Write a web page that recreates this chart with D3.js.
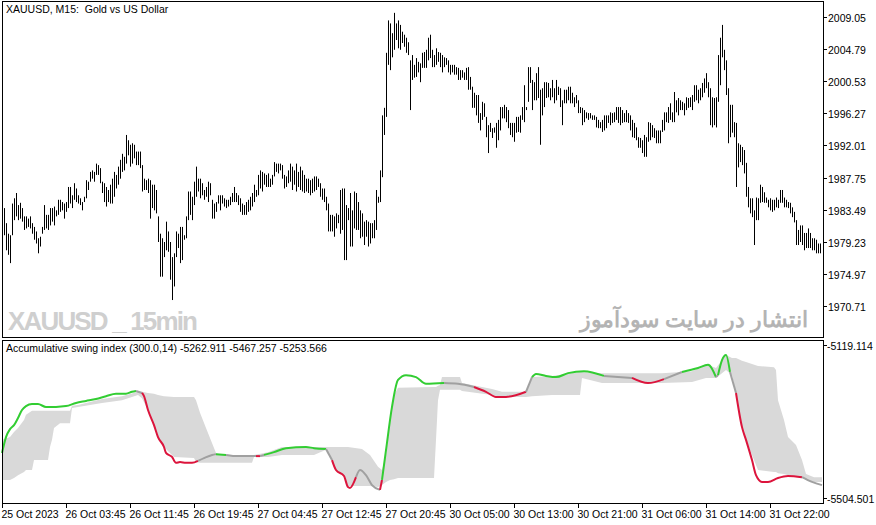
<!DOCTYPE html>
<html><head><meta charset="utf-8">
<script src="https://cdn.jsdelivr.net/npm/d3@7"></script>
<style>body{margin:0;background:#fff}svg{display:block}text{font-family:"Liberation Sans",Arial,sans-serif;white-space:pre}</style>
</head><body><svg id="c" width="876" height="525"></svg>
<script>
// ---- data ----
const barHigh=[1983.7,1981.7,1980.3,1980.1,1984.3,1985.0,1985.7,1984.1,1984.4,1983.7,1982.6,1982.6,1982.3,1982.6,1981.7,1981.2,1980.6,1979.7,1979.9,1981.2,1984.1,1982.8,1982.8,1983.7,1983.7,1983.9,1983.4,1984.8,1984.8,1984.5,1984.3,1984.5,1986.5,1986.5,1985.4,1987.0,1986.3,1985.4,1985.0,1984.5,1985.2,1987.4,1987.2,1988.5,1988.7,1988.5,1989.6,1989.4,1989.0,1987.2,1987.0,1986.5,1986.1,1986.8,1987.6,1988.5,1988.1,1989.2,1990.1,1990.9,1990.5,1993.4,1992.7,1992.1,1992.3,1992.1,1991.2,1991.2,1991.2,1989.4,1987.6,1987.4,1987.6,1987.4,1986.8,1986.8,1986.1,1982.6,1980.3,1979.7,1979.2,1981.9,1980.6,1979.2,1977.2,1977.7,1980.6,1980.3,1981.2,1981.2,1980.1,1982.6,1985.9,1985.9,1985.2,1987.2,1989.2,1987.6,1987.6,1987.0,1986.1,1986.5,1987.2,1987.0,1984.8,1984.3,1984.5,1985.4,1985.4,1985.4,1985.0,1984.8,1984.8,1985.2,1985.7,1986.5,1985.7,1985.4,1985.0,1984.3,1984.1,1984.5,1984.8,1985.2,1985.7,1986.8,1986.1,1988.1,1988.7,1988.5,1988.3,1988.1,1988.3,1987.6,1988.1,1989.8,1989.6,1989.6,1989.6,1989.4,1988.1,1987.9,1988.7,1989.6,1989.2,1988.7,1989.6,1988.5,1989.2,1988.7,1988.1,1987.6,1987.6,1987.4,1987.6,1987.9,1987.9,1987.6,1987.0,1986.3,1986.3,1985.2,1984.3,1982.8,1982.8,1982.6,1983.0,1982.8,1986.1,1986.3,1986.3,1984.1,1983.7,1985.7,1983.4,1985.9,1985.7,1984.5,1983.4,1983.0,1981.9,1982.1,1981.9,1981.7,1981.7,1982.1,1986.1,1985.2,1988.7,1996.0,1997.0,2004.3,2008.6,2008.2,2006.9,2009.6,2008.2,2008.6,2008.0,2007.1,2006.7,2006.3,2005.7,2003.3,2004.0,2002.7,2003.6,2003.1,2002.9,2004.3,2004.4,2004.7,2006.3,2006.7,2004.7,2004.0,2004.9,2004.4,2004.3,2004.0,2003.7,2003.6,2003.3,2002.7,2002.7,2002.7,2002.4,2002.3,2002.0,2002.0,2001.7,2002.3,2002.4,2001.1,1999.8,1999.0,1998.7,1998.7,1996.3,1997.8,1997.6,1995.8,1994.7,1995.0,1994.3,1994.4,1995.0,1995.4,1997.1,1997.1,1997.4,1997.1,1996.7,1995.0,1995.0,1995.0,1995.8,1995.8,1996.0,1997.1,2000.0,1997.1,2002.4,2002.4,2000.7,2000.4,2001.6,2002.4,1999.4,1999.6,2000.4,2000.4,2000.3,1999.6,2000.7,1999.6,2000.7,1999.8,1999.6,1998.0,1999.4,1999.4,1999.8,1999.8,1999.0,1998.4,1998.7,1998.0,1997.1,1997.0,1996.7,1996.4,1996.3,1996.3,1996.0,1996.0,1995.8,1995.4,1995.1,1995.4,1996.0,1996.0,1996.0,1996.4,1996.3,1996.4,1997.1,1997.1,1997.1,1996.7,1996.3,1996.7,1996.3,1996.0,1995.4,1995.0,1994.4,1993.1,1993.0,1992.7,1993.4,1993.1,1995.1,1995.0,1994.7,1994.3,1994.0,1994.0,1994.0,1995.4,1996.4,1996.4,1997.1,1997.6,1996.4,1999.1,1998.0,1998.3,1998.0,1997.8,1997.6,1998.4,1998.3,1998.4,1998.7,2000.0,2000.0,1999.4,1999.6,2000.3,2000.9,2001.6,2000.4,1999.6,1998.4,1998.3,1998.4,2004.0,2006.3,2008.0,2004.7,2003.3,1999.6,1997.4,1997.4,1995.1,1995.0,1992.3,1992.1,1991.8,1991.4,1989.7,1986.5,1985.0,1985.0,1983.4,1985.1,1985.0,1986.8,1986.5,1985.8,1985.1,1984.8,1985.0,1984.8,1984.8,1985.1,1984.8,1986.1,1986.1,1985.1,1984.8,1984.5,1984.4,1983.8,1983.2,1982.1,1980.8,1981.4,1981.4,1980.4,1980.4,1981.0,1980.4,1979.7,1979.7,1979.5,1979.0,1979.0];
const barLow=[1980.1,1978.1,1977.5,1976.4,1980.1,1982.1,1982.6,1982.1,1982.3,1981.9,1980.8,1981.0,1981.2,1981.0,1980.3,1979.5,1979.0,1977.7,1978.6,1980.3,1980.8,1981.0,1980.8,1981.4,1981.9,1981.4,1982.6,1982.8,1983.2,1983.4,1982.3,1983.2,1983.7,1984.3,1983.7,1984.8,1984.5,1984.3,1984.1,1983.4,1984.5,1985.0,1986.1,1987.2,1987.6,1987.2,1988.1,1988.1,1987.0,1985.7,1984.5,1983.9,1984.5,1984.3,1984.3,1985.2,1986.3,1986.8,1987.6,1988.5,1988.7,1989.6,1990.7,1989.2,1989.6,1990.3,1989.4,1989.4,1989.0,1985.9,1986.1,1986.1,1985.7,1982.3,1983.7,1983.4,1983.0,1979.2,1974.6,1974.6,1977.2,1978.1,1977.9,1974.2,1971.5,1973.3,1977.2,1978.4,1976.4,1976.8,1979.5,1979.7,1982.1,1982.8,1982.1,1984.1,1985.2,1985.9,1985.0,1985.4,1984.8,1985.2,1984.5,1985.4,1982.3,1982.3,1983.2,1984.3,1983.4,1984.3,1983.9,1983.7,1983.9,1984.1,1984.5,1984.5,1984.5,1984.1,1983.2,1982.8,1982.8,1982.8,1983.2,1983.4,1983.9,1984.5,1985.2,1985.4,1986.3,1985.9,1986.8,1986.5,1986.5,1986.5,1986.8,1987.9,1988.5,1988.3,1988.7,1987.6,1986.3,1986.5,1987.0,1987.2,1986.1,1986.8,1985.9,1986.5,1986.1,1985.9,1985.7,1985.9,1985.7,1985.4,1985.7,1985.9,1986.1,1986.5,1985.2,1984.8,1984.5,1983.4,1980.6,1980.6,1980.6,1979.9,1981.0,1981.7,1980.3,1980.8,1976.8,1976.8,1982.1,1978.6,1978.6,1981.0,1980.8,1980.8,1979.7,1979.9,1978.8,1979.9,1978.6,1979.0,1979.7,1979.7,1980.8,1984.4,1984.5,1987.8,1993.4,1995.8,2002.7,2002.0,2003.7,2004.7,2006.0,2004.9,2004.7,2005.6,2005.1,2004.3,2004.0,1996.7,2000.7,2001.0,2001.1,2001.7,2000.4,2002.3,2002.3,2002.3,2003.3,2003.6,2002.4,2002.4,2002.7,2003.1,2002.4,2001.7,2002.4,2002.7,2001.7,2001.4,2001.7,2001.4,2001.4,2000.7,2000.7,2001.0,2000.7,2000.7,1999.4,1999.4,1997.0,1997.0,1996.0,1995.0,1994.0,1995.4,1995.8,1993.1,1991.0,1993.8,1993.0,1993.7,1991.7,1992.7,1994.0,1995.6,1995.6,1995.1,1994.3,1993.4,1993.1,1992.5,1993.7,1993.8,1993.7,1995.4,1995.1,1996.7,1997.8,2000.3,1996.7,1998.0,1998.0,1998.3,1992.1,1996.0,1997.1,1998.3,1998.4,1998.0,1998.4,1997.6,1998.0,1998.7,1997.1,1994.7,1997.6,1997.6,1998.0,1997.6,1997.6,1997.1,1997.6,1996.3,1996.3,1994.7,1995.1,1995.6,1995.4,1995.6,1995.4,1995.4,1994.4,1994.3,1994.3,1993.8,1994.0,1994.3,1995.0,1994.7,1995.0,1995.1,1995.4,1995.0,1994.7,1995.0,1995.1,1995.1,1995.0,1994.0,1993.1,1993.0,1992.7,1991.7,1991.7,1991.0,1990.5,1990.5,1992.5,1992.7,1993.1,1993.0,1992.3,1992.3,1992.3,1993.8,1994.0,1995.1,1995.0,1995.4,1995.1,1995.1,1996.4,1996.0,1996.7,1996.7,1996.0,1996.7,1997.0,1997.1,1996.7,1997.8,1998.0,1997.6,1998.0,1998.4,1999.0,1999.6,1998.4,1994.7,1994.4,1994.7,1994.4,1997.8,2000.0,2003.7,2002.0,1998.7,1992.3,1993.1,1993.7,1993.1,1986.5,1989.1,1989.8,1989.4,1988.3,1985.2,1983.8,1983.0,1982.5,1978.8,1982.1,1982.1,1984.4,1984.5,1984.4,1984.4,1983.8,1983.4,1983.2,1983.4,1983.8,1983.7,1984.4,1984.4,1983.8,1983.8,1983.7,1983.0,1982.5,1981.8,1978.8,1978.8,1979.2,1978.8,1978.1,1978.4,1978.4,1978.4,1978.1,1978.1,1977.7,1977.7,1977.7];
const priceTicks=[2009.05,2004.79,2000.53,1996.27,1992.01,1987.75,1983.49,1979.23,1974.97,1970.71];
const timeLabels=["25 Oct 2023","26 Oct 03:45","26 Oct 11:45","26 Oct 19:45","27 Oct 04:45","27 Oct 12:45","27 Oct 20:45","30 Oct 05:00","30 Oct 13:00","30 Oct 21:00","31 Oct 06:00","31 Oct 14:00","31 Oct 22:00"];
const timeTickIdx=[0,32,64,96,128,160,192,224,256,288,320,352,384];
const asiIdx=[0,2,4,6,8,10,12,15,18,22,27,32,37,42,47,52,57,62,65,67,70,71,73,76,78,81,82,85,87,89,92,95,98,101,105,107,112,118,127,129,131,136,142,152,156,162,165,167,171,173,174,177,179,182,185,189,190,192,195,198,202,207,212,221,228,236,242,247,252,262,265,267,272,277,283,291,301,315,323,331,340,348,353,357,358,360,362,364,367,370,372,375,377,380,383,388,393,400,405,410];
const asiVal=[-5391,-5351,-5331,-5321,-5303,-5283,-5273,-5268,-5268,-5275,-5275,-5273,-5265,-5260,-5255,-5248,-5242,-5242,-5237,-5235,-5240,-5248,-5283,-5321,-5351,-5376,-5391,-5401,-5416,-5414,-5416,-5416,-5411,-5404,-5396,-5394,-5396,-5399,-5399,-5399,-5396,-5389,-5379,-5376,-5379,-5381,-5409,-5434,-5449,-5477,-5479,-5452,-5434,-5447,-5472,-5484,-5459,-5384,-5275,-5207,-5195,-5200,-5217,-5215,-5217,-5225,-5237,-5250,-5250,-5237,-5200,-5192,-5197,-5200,-5190,-5185,-5197,-5202,-5215,-5205,-5187,-5177,-5169,-5200,-5195,-5157,-5144,-5187,-5240,-5326,-5358,-5409,-5447,-5464,-5464,-5454,-5449,-5452,-5464,-5472];
const asiState="gggggggggggggggggggnrrrrrrrrrrrrnnngnnrngggggnrrrrrnnnnrgggggggnnrrrrnggggggnrrngggngggnrrrrrrrrrnnrr";
const bandIdx=[0,4,6,8,11,12,15,16,23,24,25,26,29,34,35,38,50,60,68,70,73,76,78,81,86,96,97,99,102,105,107,110,125,126,133,140,156,162,165,167,171,173,180,184,188,190,192,194,196,198,216,217,218,219,220,229,230,245,250,262,265,275,289,290,300,330,345,352,357,362,365,367,370,372,375,378,386,387,388,391,393,397,400,402,406,410];
const bandUpper=[-5358,-5351,-5338,-5328,-5308,-5295,-5285,-5285,-5285,-5285,-5285,-5285,-5285,-5285,-5272,-5270,-5255,-5248,-5237,-5237,-5240,-5242,-5245,-5248,-5250,-5250,-5258,-5290,-5328,-5366,-5391,-5396,-5396,-5396,-5389,-5376,-5376,-5376,-5376,-5376,-5376,-5376,-5381,-5396,-5426,-5434,-5396,-5308,-5245,-5227,-5225,-5225,-5222,-5220,-5200,-5200,-5215,-5230,-5237,-5237,-5200,-5197,-5187,-5187,-5190,-5190,-5185,-5167,-5177,-5144,-5152,-5152,-5159,-5162,-5167,-5172,-5175,-5182,-5258,-5308,-5351,-5371,-5409,-5444,-5452,-5452];
const bandLower=[-5459,-5459,-5454,-5447,-5439,-5434,-5434,-5409,-5409,-5376,-5358,-5328,-5316,-5316,-5278,-5275,-5265,-5258,-5245,-5253,-5283,-5321,-5351,-5376,-5401,-5404,-5414,-5416,-5416,-5416,-5416,-5416,-5416,-5401,-5401,-5396,-5396,-5383,-5409,-5434,-5449,-5474,-5474,-5474,-5477,-5472,-5464,-5459,-5457,-5454,-5454,-5358,-5258,-5232,-5232,-5232,-5235,-5245,-5250,-5250,-5248,-5245,-5245,-5202,-5215,-5215,-5212,-5202,-5202,-5182,-5195,-5240,-5326,-5358,-5396,-5434,-5439,-5439,-5442,-5444,-5447,-5449,-5452,-5459,-5464,-5464];
const asiTicks=[-5119.114,-5504.501];

// ---- drawing ----
const svg=d3.select("#c");
const L=2,R=823;
const x=d3.scaleLinear().domain([0,410]).range([L,822]);
const yP=d3.scaleLinear().domain([2009.05,1970.71]).range([17,306]);
const yA=d3.scaleLinear().domain([-5119.114,-5504.501]).range([345,498]);

// watermarks
svg.append("text").attr("x",8).attr("y",330).attr("font-size",26).attr("font-weight","bold")
 .attr("fill","#cfcfcf").attr("font-family","'DejaVu Sans',sans-serif").attr("textLength",190).text("XAUUSD _ 15min");
svg.append("text").attr("x",808).attr("y",327).attr("text-anchor","end").attr("font-size",22).attr("font-weight","bold")
 .attr("fill","#b4b4b4").attr("font-family","'Noto Sans','DejaVu Sans',sans-serif").text("انتشار در سایت سودآموز");

// price bars
svg.append("g").selectAll("line").data(barHigh).join("line")
 .attr("x1",(d,i)=>Math.round(x(i+1))+0.5).attr("x2",(d,i)=>Math.round(x(i+1))+0.5)
 .attr("y1",d=>yP(d)).attr("y2",(d,i)=>yP(barLow[i])).attr("stroke","#000").attr("stroke-width",1);

// band
const band=bandIdx.map((d,i)=>({i:d,u:bandUpper[i],l:bandLower[i]}));
svg.append("path").datum(band).attr("fill","#d9d9d9")
 .attr("d",d3.area().x(d=>x(d.i)).y0(d=>yA(d.l)).y1(d=>yA(d.u)));

// ASI colored line
const col={g:"#32cd32",r:"#dc143c",n:"#a0a0a0"};
const pts=asiIdx.map((d,i)=>({i:d,v:asiVal[i],s:asiState[i]}));
const line=d3.line().x(d=>x(d.i)).y(d=>yA(d.v)).curve(d3.curveMonotoneX);
let runs=[],cur=null;
for(let k=0;k<pts.length-1;k++){
  const s=pts[k].s;
  if(!cur||cur.s!==s){cur={s,p:[pts[k]]};runs.push(cur);}
  cur.p.push(pts[k+1]);
}
runs.forEach(r=>svg.append("path").attr("d",line(r.p)).attr("fill","none").attr("stroke",col[r.s]).attr("stroke-width",2));

// frames
svg.append("rect").attr("x",L+0.5).attr("y",1.5).attr("width",R-L).attr("height",336).attr("fill","none").attr("stroke","#000");
svg.append("rect").attr("x",L+0.5).attr("y",340.5).attr("width",R-L).attr("height",163).attr("fill","none").attr("stroke","#000");

// right price axis
const fs=10.5;
const ga=svg.append("g").attr("font-size",fs);
priceTicks.forEach(p=>{
  const yy=Math.round(yP(p))+0.5;
  ga.append("line").attr("x1",R).attr("x2",R+4).attr("y1",yy).attr("y2",yy).attr("stroke","#000");
  ga.append("text").attr("x",R+5).attr("y",yy+4).text(p.toFixed(2));
});
asiTicks.forEach(p=>{
  const yy=Math.round(yA(p))+0.5;
  ga.append("line").attr("x1",R).attr("x2",R+4).attr("y1",yy).attr("y2",yy).attr("stroke","#000");
  ga.append("text").attr("x",R+4).attr("y",yy+4).text(p.toFixed(3));
});
// time axis
timeTickIdx.forEach((t,k)=>{
  const xx=Math.round(x(t))+0.5;
  ga.append("line").attr("x1",xx).attr("x2",xx).attr("y1",504).attr("y2",508).attr("stroke","#000");
  ga.append("text").attr("x",xx-1).attr("y",518).text(timeLabels[k]);
});
// titles
ga.append("text").attr("x",6).attr("y",13).text("XAUUSD, M15:  Gold vs US Dollar");
ga.append("text").attr("x",6).attr("y",352).text("Accumulative swing index (300.0,14) -5262.911 -5467.257 -5253.566");
</script></body></html>
